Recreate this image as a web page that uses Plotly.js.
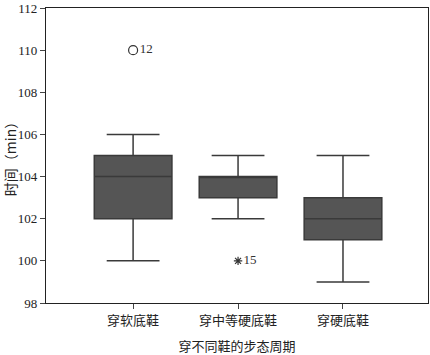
<!DOCTYPE html>
<html><head><meta charset="utf-8">
<script src="https://cdn.plot.ly/plotly-3.0.1.min.js"></script>
<style>body{margin:0;}#c{width:430px;height:355px;}</style>
</head><body><div id="c"></div>
<script>
const categories = ['穿软底鞋', '穿中等硬底鞋', '穿硬底鞋'];
const lowerFence = [100, 102, 99];
const q1Vals = [102, 103, 101];
const medianVals = [104, 104, 102];
const q3Vals = [105, 104, 103];
const upperFence = [106, 105, 105];
const circleOutX = ['穿软底鞋'];
const circleOutY = [110];
const circleOutLabel = ['12'];
const starOutX = ['穿中等硬底鞋'];
const starOutY = [100];
const starOutLabel = ['15'];
const yTicks = [98, 100, 102, 104, 106, 108, 110, 112];

const serif = '"Liberation Serif", "Times New Roman", "Noto Sans CJK SC", serif';
const cjk = '"Noto Sans CJK SC", sans-serif';

const traces = [
  {
    type: 'box', x: categories, q1: q1Vals, median: medianVals, q3: q3Vals,
    lowerfence: lowerFence, upperfence: upperFence,
    fillcolor: '#555555', line: {color: '#3a3a3a', width: 1.5},
    width: 0.74, whiskerwidth: 0.68, boxpoints: false, showlegend: false, hoverinfo: 'skip'
  },
  {
    type: 'scatter', mode: 'markers+text', x: circleOutX, y: circleOutY, text: circleOutLabel,
    textposition: 'middle right', textfont: {family: serif, size: 13, color: '#333'},
    marker: {symbol: 'circle-open', size: 9, color: '#333', line: {width: 1.2}},
    showlegend: false, cliponaxis: false
  },
  {
    type: 'scatter', mode: 'markers+text', x: starOutX, y: starOutY, text: starOutLabel,
    textposition: 'middle right', textfont: {family: serif, size: 13, color: '#333'},
    marker: {symbol: 'asterisk-open', size: 7, color: '#333', line: {width: 1.2}},
    showlegend: false, cliponaxis: false
  }
];

const layout = {
  width: 430, height: 355,
  margin: {l: 46, r: 2, t: 8, b: 52},
  paper_bgcolor: '#ffffff', plot_bgcolor: '#ffffff',
  font: {family: serif, color: '#222'},
  xaxis: {
    type: 'category', range: [-0.83, 2.81],
    showline: true, mirror: true, linecolor: '#222', linewidth: 1.2,
    ticks: 'outside', ticklen: 5, tickcolor: '#444', showgrid: false, zeroline: false,
    tickfont: {family: cjk, size: 13, color: '#222'},
    title: {text: '穿不同鞋的步态周期', font: {family: cjk, size: 13, color: '#222'}, standoff: 16}
  },
  yaxis: {
    range: [98, 112], tickvals: yTicks, ticklabeloverflow: 'allow',
    showline: true, mirror: true, linecolor: '#222', linewidth: 1.2,
    ticks: 'outside', ticklen: 5, tickcolor: '#444', showgrid: false, zeroline: false,
    tickfont: {family: serif, size: 13, color: '#222'},
    title: {text: '时间（min）', font: {family: cjk, size: 14, color: '#222'}, standoff: 6}
  }
};

Plotly.newPlot('c', traces, layout, {displayModeBar: false, staticPlot: true});
</script></body></html>
